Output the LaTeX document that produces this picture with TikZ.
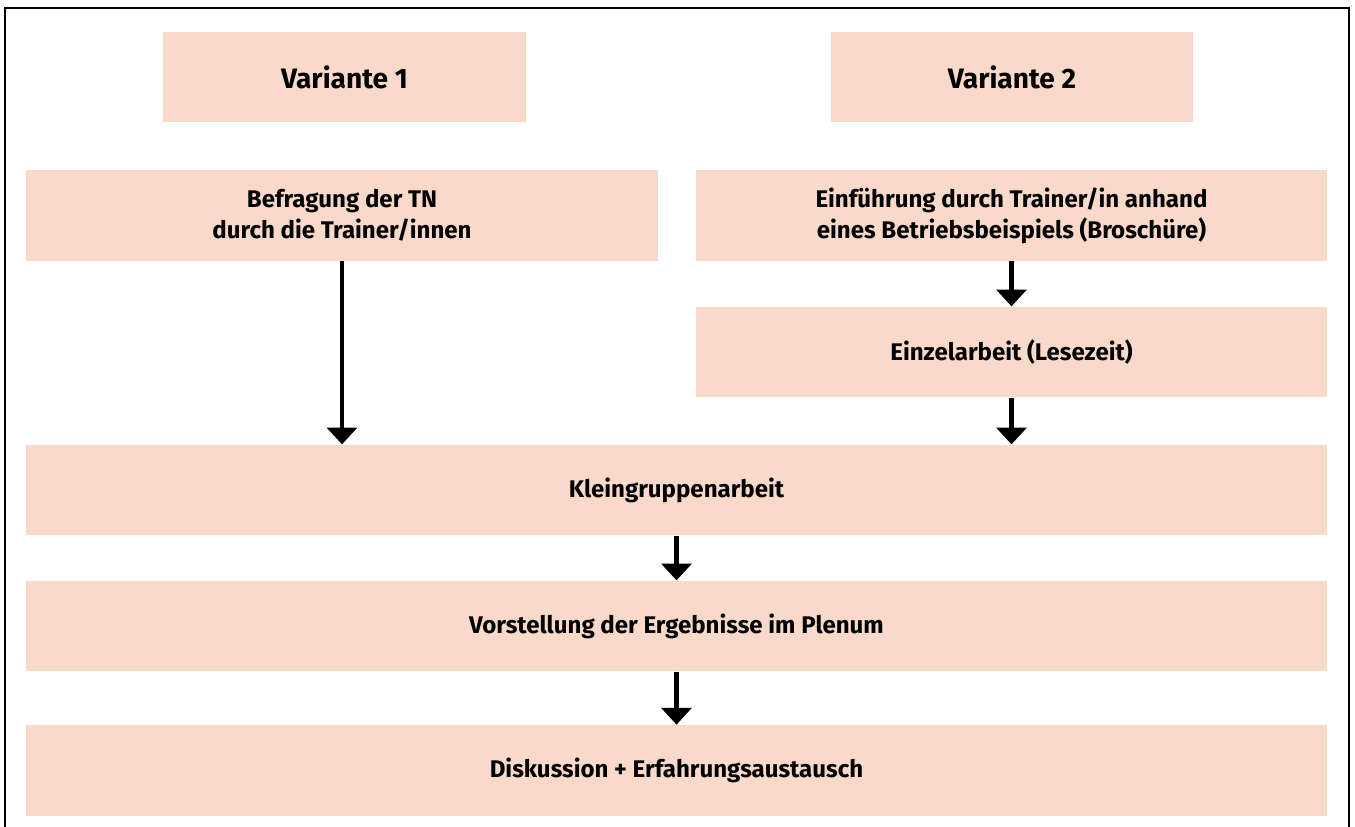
\documentclass[tikz,border=0pt]{standalone}
\usepackage{fontspec}
\setmainfont{Fira Sans}
\usetikzlibrary{arrows.meta}
\definecolor{peach}{RGB}{249,217,201}
\tikzset{
  box/.style={fill=peach, inner sep=0pt, align=center, font=\bfseries\fontsize{13.7}{17.6}\selectfont},
  headbox/.style={box, font=\bfseries\fontsize{16}{19}\selectfont},
  flow/.style={line width=2.3pt, -{Triangle[width=17pt,length=9.6pt]}}
}
\begin{document}
\begin{tikzpicture}[x=0.02cm, y=-0.02cm]
  \useasboundingbox (0,0) rectangle (1355,827);
  \draw[line width=1pt] (4.8,827) -- (4.8,7.8) -- (1349.2,7.8) -- (1349.2,827);
  % top row
  \node[headbox, minimum width=7.26cm, minimum height=1.8cm] (v1) at (344.5,77) {Variante 1};
  \node[headbox, minimum width=7.24cm, minimum height=1.8cm] (v2) at (1012,77) {Variante 2};
  % both variants
  \node[box, minimum width=12.64cm, minimum height=1.82cm] (befr) at (342,215.5) {Befragung der TN\\durch die Trainer/innen};
  \node[box, minimum width=12.62cm, minimum height=1.82cm] (einf) at (1011.5,215.5) {Einführung durch Trainer/in anhand\\eines Betriebsbeispiels (Broschüre)};
  \node[box, minimum width=12.62cm, minimum height=1.81cm] (einz) at (1011.5,352) {Einzelarbeit (Lesezeit)};
  % common part
  \node[box, minimum width=26.02cm, minimum height=1.81cm] (klein) at (676.5,490) {Kleingruppenarbeit};
  \node[box, minimum width=26.02cm, minimum height=1.81cm] (vorst) at (676.5,626) {Vorstellung der Ergebnisse im Plenum};
  \node[box, minimum width=26.02cm, minimum height=1.82cm] (disk) at (676.5,770.5) {Diskussion + Erfahrungsaustausch};
  \begin{scope}[flow]
    \draw (befr.south) to (klein.north -| befr.south);
    \draw (einf.south) to (einz.north);
    \draw (einz.south) to (klein.north -| einz.south);
    \draw (klein.south) to (vorst.north);
    \draw (vorst.south) to (disk.north);
  \end{scope}
\end{tikzpicture}
\end{document}
